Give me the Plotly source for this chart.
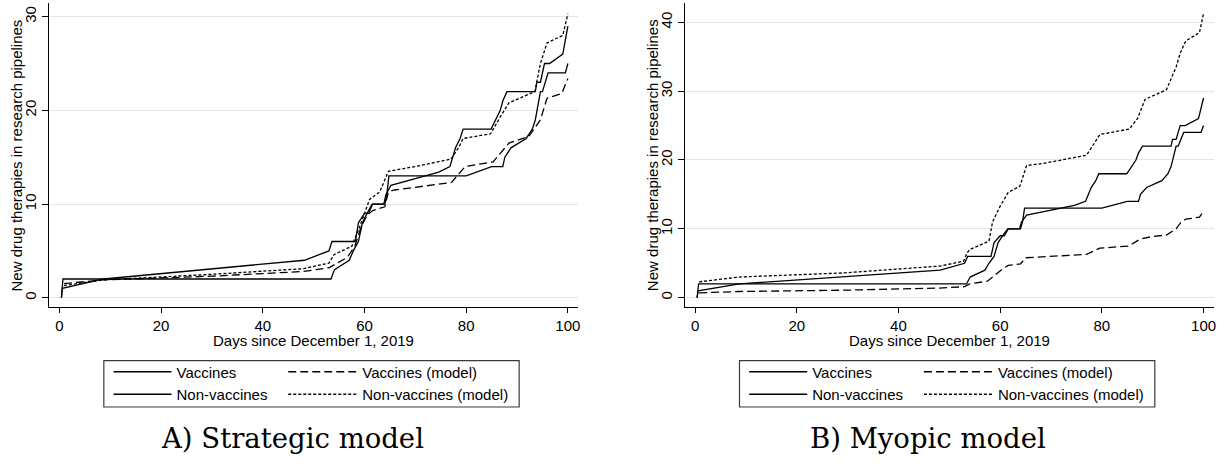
import plotly.graph_objects as go

# ---------------- data ----------------
# Observed pipelines (same in both panels)
vacc_x = [0.4, 0.7, 53.4, 54.1, 57.0, 57.8, 58.8, 59.6, 60.5, 61.5, 64.0, 64.4, 64.8,
          80.0, 85.0, 87.2, 87.6, 88.8, 91.8, 93.0, 93.6, 94.6, 95.0, 96.1, 99.5, 100.0]
vacc_y = [0, 2, 2, 3, 4, 5, 6, 8, 9, 10, 10, 11, 13,
          13, 14, 14, 15, 16, 17, 18, 19, 22, 22, 24, 24, 25]

nonvacc_x = [0.4, 0.6, 8.7, 48.2, 53.0, 53.6, 58.2, 58.8, 60.0, 60.8, 61.6, 63.8, 64.2, 65.2,
             74.6, 76.8, 77.9, 78.8, 79.4, 84.9, 86.7, 87.2, 88.0, 93.6, 93.9, 94.6, 95.4,
             96.4, 99.0, 99.6, 100.0]
nonvacc_y = [0, 1, 2, 4, 5, 6, 6, 8, 9, 9, 10, 10, 11, 12,
             13.4, 14, 16, 17, 18, 18, 20, 21, 22, 22, 23, 23, 25,
             25, 26, 28, 29]

# A) Strategic model predictions
strat_vacc_x = [0.9, 8.5, 30.0, 48.0, 53.0, 56.6, 58.1, 59.3, 60.5, 61.6, 64.0, 64.7, 65.9,
                70.5, 77.1, 79.8, 85.3, 88.4, 92.3, 94.6, 95.9, 98.8, 100.0]
strat_vacc_y = [1.5, 1.9, 2.3, 2.8, 3.2, 4.3, 5.5, 7.5, 8.8, 9.3, 9.7, 11.3, 11.5,
                11.8, 12.3, 14.0, 14.5, 16.5, 17.2, 19.0, 21.3, 21.8, 23.4]

strat_nonvacc_x = [0.9, 8.5, 30.0, 48.0, 53.0, 54.0, 57.5, 59.0, 61.0, 63.0, 64.7, 70.0,
                   77.0, 78.6, 79.4, 84.8, 86.7, 88.4, 93.5, 94.6, 95.9, 99.0, 100.0]
strat_nonvacc_y = [1.3, 1.9, 2.5, 3.1, 3.7, 4.6, 5.5, 7.5, 10.5, 11.3, 13.5, 14.0,
                   14.8, 16.1, 17.0, 17.5, 19.3, 20.8, 22.0, 25.0, 27.2, 28.0, 30.3]

# B) Myopic model predictions
myop_vacc_x = [0.8, 8.6, 30.0, 48.0, 53.0, 54.0, 57.5, 59.0, 60.5, 61.6, 64.0, 65.0,
               70.0, 77.0, 79.6, 85.3, 87.5, 90.0, 92.7, 94.6, 95.5, 96.5, 99.2, 100.0]
myop_vacc_y = [0.7, 0.9, 1.1, 1.4, 1.6, 2.0, 2.4, 3.3, 4.2, 4.7, 4.9, 5.8,
               6.0, 6.3, 7.2, 7.5, 8.5, 8.9, 9.1, 10.0, 10.9, 11.4, 11.7, 12.6]

myop_nonvacc_x = [0.8, 8.6, 29.3, 48.2, 52.8, 53.5, 54.0, 57.8, 58.5, 60.0, 61.6, 63.9, 65.2,
                  68.5, 77.0, 79.6, 85.4, 87.0, 88.5, 90.0, 92.7, 94.6, 95.4, 96.5, 99.2, 100.0]
myop_nonvacc_y = [2.3, 3.0, 3.6, 4.6, 5.3, 6.5, 7.0, 8.2, 11.0, 13.3, 15.3, 16.2, 19.2,
                  19.5, 20.7, 23.7, 24.5, 26.0, 28.8, 29.3, 30.2, 33.5, 35.5, 37.3, 38.5, 41.3]

x_ticks = [0, 20, 40, 60, 80, 100]
y_ticks_a = [0, 10, 20, 30]
y_ticks_b = [0, 10, 20, 30, 40]

x_title = "Days since December 1, 2019"
y_title = "New drug therapies in research pipelines"
captions = ["A) Strategic model", "B) Myopic model"]
names = ["Vaccines", "Non-vaccines", "Vaccines (model)", "Non-vaccines (model)"]

# ---------------- figure ----------------
W, H = 1228, 474
SANS = "Liberation Sans, Arial, sans-serif"
LW = 1.3
OFF = 636.7  # horizontal offset of the right panel

fig = go.Figure()


def add_panel(xa, ya, mv_x, mv_y, mn_x, mn_y, leg_a, leg_b):
    fig.add_trace(go.Scatter(x=vacc_x, y=vacc_y, mode="lines", name=names[0],
                             line=dict(color="black", width=LW),
                             xaxis=xa, yaxis=ya, legend=leg_a, legendrank=1))
    fig.add_trace(go.Scatter(x=nonvacc_x, y=nonvacc_y, mode="lines", name=names[1],
                             line=dict(color="black", width=LW),
                             xaxis=xa, yaxis=ya, legend=leg_a, legendrank=2))
    fig.add_trace(go.Scatter(x=mv_x, y=mv_y, mode="lines", name=names[2],
                             line=dict(color="black", width=LW, dash="8px,4px"),
                             xaxis=xa, yaxis=ya, legend=leg_b, legendrank=1))
    fig.add_trace(go.Scatter(x=mn_x, y=mn_y, mode="lines", name=names[3],
                             line=dict(color="black", width=LW, dash="3px,2px"),
                             xaxis=xa, yaxis=ya, legend=leg_b, legendrank=2))


add_panel("x", "y", strat_vacc_x, strat_vacc_y, strat_nonvacc_x, strat_nonvacc_y, "legend", "legend2")
add_panel("x2", "y2", myop_vacc_x, myop_vacc_y, myop_nonvacc_x, myop_nonvacc_y, "legend3", "legend4")

ydom = [(H - 307) / H, (H - 3) / H]
xdom_a = [49.3 / W, 579 / W]
xdom_b = [(49.3 + OFF) / W, (579 + OFF) / W]

common_x = dict(range=[-2, 102], tickvals=x_ticks, showline=True, linecolor="black", linewidth=1.2,
                ticks="outside", ticklen=5, tickcolor="black", tickwidth=1, showgrid=False,
                zeroline=False, tickfont=dict(family=SANS, size=15, color="black"))
common_y = dict(showline=True, linecolor="black", linewidth=1.2, ticks="outside", ticklen=6,
                tickcolor="black", tickwidth=1, showgrid=True, gridcolor="#e6e6e6", gridwidth=1,
                zeroline=False, tickangle=-90, tickfont=dict(family=SANS, size=15, color="black"))

leg_common = dict(orientation="v", bgcolor="rgba(0,0,0,0)", borderwidth=0,
                  font=dict(family=SANS, size=15, color="black"),
                  xanchor="left", yanchor="top", yref="paper", xref="paper",
                  itemclick=False, itemdoubleclick=False)
leg_top = 1 - 355.5 / H

fig.update_layout(
    width=W, height=H, autosize=False,
    margin=dict(l=0, r=0, t=0, b=0),
    paper_bgcolor="white", plot_bgcolor="white",
    xaxis=dict(domain=xdom_a, anchor="y", **common_x),
    yaxis=dict(domain=ydom, anchor="x", range=[-0.99, 31.46], tickvals=y_ticks_a, **common_y),
    xaxis2=dict(domain=xdom_b, anchor="y2", **common_x),
    yaxis2=dict(domain=ydom, anchor="x2", range=[-1.35, 42.8], tickvals=y_ticks_b, **common_y),
    legend=dict(x=108.7 / W, y=leg_top, itemwidth=58, **leg_common),
    legend2=dict(x=283.7 / W, y=leg_top, itemwidth=69, **leg_common),
    legend3=dict(x=(108.7 + OFF) / W, y=leg_top, itemwidth=58, **leg_common),
    legend4=dict(x=(283.7 + OFF) / W, y=leg_top, itemwidth=69, **leg_common),
    showlegend=True,
)

for off in (0, OFF):
    # y-axis title
    fig.add_annotation(x=(17 + off) / W, y=1 - 155.5 / H, xref="paper", yref="paper", text=y_title,
                       textangle=-90, showarrow=False, xanchor="center", yanchor="middle",
                       font=dict(family=SANS, size=15, color="black"))
    # x-axis title
    fig.add_annotation(x=(314.2 + off) / W, y=1 - 340 / H, xref="paper", yref="paper", text=x_title,
                       showarrow=False, xanchor="center", yanchor="middle",
                       font=dict(family=SANS, size=15, color="black"))
    # legend frame
    fig.add_shape(type="rect", xref="paper", yref="paper",
                  x0=(104 + off) / W, x1=(520 + off) / W,
                  y0=1 - 407 / H, y1=1 - 360.7 / H,
                  line=dict(color="#3a3a3a", width=1.2), fillcolor="rgba(0,0,0,0)", layer="below")

# panel captions
for cx, txt in zip((292.5, 292.5 + OFF), captions):
    fig.add_annotation(x=cx / W, y=1 - 438 / H, xref="paper", yref="paper", text=txt,
                       showarrow=False, xanchor="center", yanchor="middle",
                       font=dict(family="DejaVu Serif, serif", size=27.5, color="black"))

fig.write_html("out.html", config={"displayModeBar": False},
               post_script="document.body.style.margin='0px';")
